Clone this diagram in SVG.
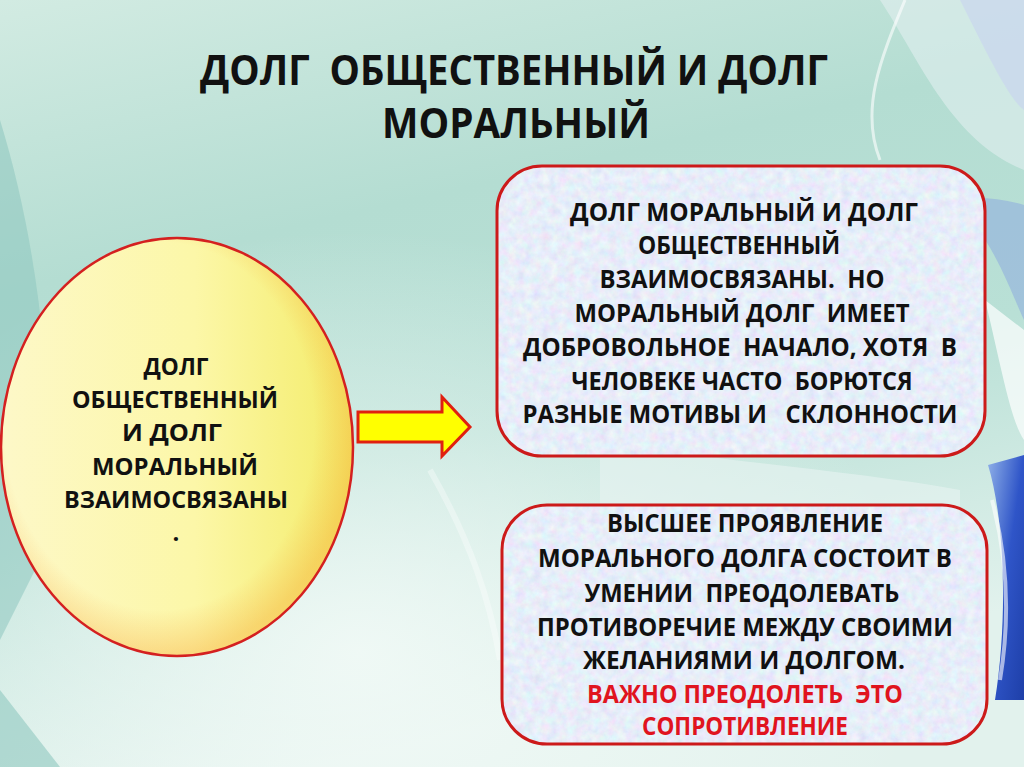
<svg xmlns="http://www.w3.org/2000/svg" width="1024" height="767" viewBox="0 0 1024 767">
  <defs>
    <linearGradient id="bg" x1="0" y1="0" x2="0.3" y2="1">
      <stop offset="0" stop-color="#d2ebe2"/>
      <stop offset="0.35" stop-color="#b4ddd2"/>
      <stop offset="0.65" stop-color="#b9e0d6"/>
      <stop offset="1" stop-color="#e2f2ed"/>
    </linearGradient>
    <radialGradient id="glow" cx="0.35" cy="0.85" r="0.55">
      <stop offset="0" stop-color="#f4fbf8" stop-opacity="0.85"/>
      <stop offset="1" stop-color="#f4fbf8" stop-opacity="0"/>
    </radialGradient>
    <linearGradient id="ellFill" x1="0" y1="0" x2="1" y2="0">
      <stop offset="0" stop-color="#fdf8c8"/>
      <stop offset="0.55" stop-color="#fcf7a8"/>
      <stop offset="1" stop-color="#f3ec68"/>
    </linearGradient>
    <radialGradient id="ellEdge" cx="0.45" cy="0.45" r="0.55">
      <stop offset="0.8" stop-color="#f7a030" stop-opacity="0"/>
      <stop offset="1" stop-color="#f7a030" stop-opacity="0.35"/>
    </radialGradient>
    <linearGradient id="blueSwoosh" x1="0" y1="0" x2="1" y2="1">
      <stop offset="0" stop-color="#8fb0e8"/>
      <stop offset="0.5" stop-color="#2f55c8"/>
      <stop offset="1" stop-color="#1e3fa8"/>
    </linearGradient>
    <filter id="tex" x="0" y="0" width="100%" height="100%">
      <feTurbulence type="fractalNoise" baseFrequency="0.12" numOctaves="4" seed="7" result="n"/>
      <feColorMatrix in="n" type="matrix" values="0.3 0 0 0 0.65  0 0.3 0 0 0.70  0 0 0.15 0 0.87  0 0 0 0 1" result="c"/>
      <feComposite in="c" in2="SourceGraphic" operator="in"/>
    </filter>
    <style>
      .t { font-family: "Open Sans", "Liberation Sans", sans-serif; font-weight: 700; fill: #111; text-anchor: middle; white-space: pre; }
      .title { font-size: 42px; }
      .ell { font-size: 24px; }
      .box { font-size: 25px; }
      .red { fill: #e0141e; }
      .frame { fill: none; stroke: #cc1a1a; stroke-width: 3; }
    </style>
  </defs>

  <!-- background -->
  <g id="background">
    <rect x="0" y="0" width="1024" height="767" fill="url(#bg)"/>
    <rect x="0" y="0" width="1024" height="767" fill="url(#glow)"/>
    <path d="M0 120 C 40 250, 60 420, 40 560 L 0 640 Z" fill="#8ec6bf" opacity="0.55"/>
    <path d="M0 690 L 60 767 L 0 767 Z" fill="#90c8c0" opacity="0.6"/>
    <path d="M880 0 C 920 60, 950 140, 1024 170 L 1024 0 Z" fill="#e6f0f2" opacity="0.55"/>
    <path d="M960 0 C 990 60, 1010 100, 1024 110 L 1024 0 Z" fill="#c9d6ee" opacity="0.7"/>
    <path d="M905 0 C 880 60, 860 110, 880 160" fill="none" stroke="#ffffff" stroke-width="3" opacity="0.6"/>
    <path d="M950 200 C 990 230, 1010 290, 1024 320 L 1024 205 C 1000 198, 975 196, 950 200 Z" fill="#8aa6e0" opacity="0.5"/>
    <path d="M985 300 C 1000 360, 1010 420, 1024 440 L 1024 330 Z" fill="#ffffff" opacity="0.7"/>
    <path d="M988 465 C 1005 520, 1008 620, 995 700 L 1024 700 L 1024 455 Z" fill="url(#blueSwoosh)"/>
    <path d="M992 500 C 1008 560, 1010 620, 1000 680" fill="none" stroke="#ffffff" stroke-width="4" opacity="0.6"/>
    <path d="M600 440 C 700 460, 850 470, 960 490 L 960 510 L 600 510 Z" fill="#e8f4f2" opacity="0.6"/>
    <path d="M430 470 C 470 540, 490 600, 500 660" fill="none" stroke="#ffffff" stroke-width="6" opacity="0.35"/>
  </g>

  <!-- title -->
  <g id="title">
    <text class="t title" x="514" y="85" textLength="628" lengthAdjust="spacingAndGlyphs">ДОЛГ  ОБЩЕСТВЕННЫЙ И ДОЛГ</text>
    <text class="t title" x="516" y="138" textLength="268" lengthAdjust="spacingAndGlyphs">МОРАЛЬНЫЙ</text>
  </g>

  <!-- ellipse node -->
  <g id="node-ellipse">
    <ellipse cx="177" cy="447" rx="176" ry="209" fill="url(#ellFill)"/>
    <ellipse cx="177" cy="447" rx="176" ry="209" fill="url(#ellEdge)"/>
    <ellipse cx="177" cy="447" rx="176" ry="209" fill="none" stroke="#d42020" stroke-width="2.5"/>
    <text class="t ell" x="176" y="375" textLength="65" lengthAdjust="spacingAndGlyphs">ДОЛГ</text>
    <text class="t ell" x="175" y="408" textLength="206" lengthAdjust="spacingAndGlyphs">ОБЩЕСТВЕННЫЙ</text>
    <text class="t ell" x="172" y="441" textLength="100" lengthAdjust="spacingAndGlyphs">И ДОЛГ</text>
    <text class="t ell" x="175" y="475" textLength="166" lengthAdjust="spacingAndGlyphs">МОРАЛЬНЫЙ</text>
    <text class="t ell" x="176" y="508" textLength="224" lengthAdjust="spacingAndGlyphs">ВЗАИМОСВЯЗАНЫ</text>
    <text class="t ell" x="176" y="541">.</text>
  </g>

  <!-- connectors -->
  <g id="connectors">
    <path d="M358 412 L442 412 L442 397 L470 427 L442 456 L442 442 L358 442 Z" fill="#ffff00" stroke="#e02010" stroke-width="3" stroke-linejoin="miter"/>
  </g>

  <!-- box 1 -->
  <g id="node-box1">
    <rect x="497" y="166" width="488" height="290" rx="45" ry="45" fill="#cbdaf0" filter="url(#tex)"/>
    <rect class="frame" x="497" y="166" width="488" height="290" rx="45" ry="45"/>
    <text class="t box" x="744" y="221" textLength="348" lengthAdjust="spacingAndGlyphs">ДОЛГ МОРАЛЬНЫЙ И ДОЛГ</text>
    <text class="t box" x="739" y="254" textLength="202" lengthAdjust="spacingAndGlyphs">ОБЩЕСТВЕННЫЙ</text>
    <text class="t box" x="742" y="288" textLength="285" lengthAdjust="spacingAndGlyphs">ВЗАИМОСВЯЗАНЫ.  НО</text>
    <text class="t box" x="742" y="322" textLength="335" lengthAdjust="spacingAndGlyphs">МОРАЛЬНЫЙ ДОЛГ  ИМЕЕТ</text>
    <text class="t box" x="740" y="356" textLength="434" lengthAdjust="spacingAndGlyphs">ДОБРОВОЛЬНОЕ  НАЧАЛО, ХОТЯ  В</text>
    <text class="t box" x="742" y="390" textLength="341" lengthAdjust="spacingAndGlyphs">ЧЕЛОВЕКЕ ЧАСТО  БОРЮТСЯ</text>
    <text class="t box" x="740" y="423" textLength="435" lengthAdjust="spacingAndGlyphs">РАЗНЫЕ МОТИВЫ И   СКЛОННОСТИ</text>
  </g>

  <!-- box 2 -->
  <g id="node-box2">
    <rect x="502" y="505" width="485" height="239" rx="45" ry="45" fill="#cbdaf0" filter="url(#tex)"/>
    <rect class="frame" x="502" y="505" width="485" height="239" rx="45" ry="45"/>
    <text class="t box" x="745" y="532" textLength="276" lengthAdjust="spacingAndGlyphs">ВЫСШЕЕ ПРОЯВЛЕНИЕ</text>
    <text class="t box" x="745" y="567" textLength="414" lengthAdjust="spacingAndGlyphs">МОРАЛЬНОГО ДОЛГА СОСТОИТ В</text>
    <text class="t box" x="742" y="602" textLength="315" lengthAdjust="spacingAndGlyphs">УМЕНИИ  ПРЕОДОЛЕВАТЬ</text>
    <text class="t box" x="745" y="636" textLength="416" lengthAdjust="spacingAndGlyphs">ПРОТИВОРЕЧИЕ МЕЖДУ СВОИМИ</text>
    <text class="t box" x="744" y="669" textLength="322" lengthAdjust="spacingAndGlyphs">ЖЕЛАНИЯМИ И ДОЛГОМ.</text>
    <text class="t box red" x="745" y="703" textLength="316" lengthAdjust="spacingAndGlyphs">ВАЖНО ПРЕОДОЛЕТЬ  ЭТО</text>
    <text class="t box red" x="745" y="735" textLength="206" lengthAdjust="spacingAndGlyphs">СОПРОТИВЛЕНИЕ</text>
  </g>
</svg>
